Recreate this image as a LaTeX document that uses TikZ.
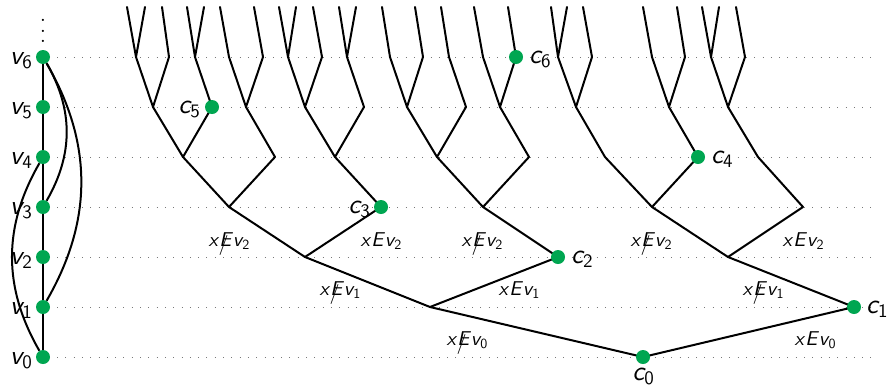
\documentclass[tikz,border=0pt]{standalone}
\usepackage{fontspec}
\newfontfamily\lmsanst{lmsans10-regular.otf}[ItalicFont=lmsans10-oblique.otf]
\definecolor{dotgreen}{RGB}{0,166,81}
\definecolor{guidegray}{RGB}{120,120,120}
\tikzset{
  gdot/.style={circle, fill=dotgreen, draw=none, inner sep=0pt, minimum size=14pt},
  tedge/.style={line width=2pt, line cap=round, line join=round},
  gedge/.style={line width=2pt},
  guide/.style={draw=guidegray, line width=1pt, dash pattern=on 1pt off 7.3pt},
  biglab/.style={font=\lmsanst\itshape\fontsize{27}{30}\selectfont, inner sep=0pt},
  edgelab/.style={font=\lmsanst\itshape\fontsize{20}{22}\selectfont, inner sep=0pt, anchor=base},
}
\newcommand{\nodelab}[2]{#1\raisebox{-4pt}{\fontsize{19}{20}\selectfont\upshape #2}}
\newcommand{\notE}{\rlap{\hspace{-0.03em}\raisebox{-0.2em}{\upshape/}}E}
\newcommand{\elab}[2]{x\kern0.08em#1\kern0.08em v\kern0.02em\raisebox{-3pt}{\fontsize{14}{15}\selectfont\upshape #2}}
\begin{document}
\begin{tikzpicture}[x=1pt,y=1pt]
\useasboundingbox (0,0) rectangle (890,-386);

% ---------- graph on the left ----------
\foreach \k in {0,...,6} {
  \node[gdot] (v\k) at (43,{-(357-50*\k)}) {};
  \coordinate (gr\k) at (875,{-(357-50*\k)});
  \coordinate (gl\k) at (57,{-(357-50*\k)});
}
\foreach \k in {0,...,6} {
  \draw[guide] (gl\k) -- (gr\k);
  \node[biglab, anchor=base east] (lv\k) at (32,{-(357-50*\k)-7}) {\nodelab{v}{\k}};
}
\foreach \a/\b in {v0/v1,v1/v2,v2/v3,v3/v4,v4/v5,v5/v6}
  \draw[gedge] (\a) -- (\b);
\draw[gedge] (v6) to[bend left=30] (v3);
\draw[gedge] (v6) to[bend left=30] (v1);
\draw[gedge] (v4) to[bend right=30] (v0);
\node[font=\fontsize{27}{10.8}\selectfont, align=center, inner sep=0pt] (vd) at (43,-31) {.\\.\\.};

% ---------- tree points ----------
\coordinate (c0) at (643,-357);
\coordinate (l1a) at (430,-307); \coordinate (c1) at (854,-307);
\coordinate (l2a) at (305,-257); \coordinate (c2) at (558,-257); \coordinate (l2b) at (728,-257);
\coordinate (l3a) at (229,-207); \coordinate (c3) at (381,-207); \coordinate (l3b) at (483,-207);
\coordinate (l3c) at (652,-207); \coordinate (l3d) at (803,-207);
\coordinate (l4a) at (183,-157); \coordinate (l4b) at (275,-157); \coordinate (l4c) at (335,-157);
\coordinate (l4d) at (437,-157); \coordinate (l4e) at (529,-157); \coordinate (l4f) at (605,-157);
\coordinate (c4) at (698,-157); \coordinate (l4g) at (758,-157);
\coordinate (l5a) at (153,-107); \coordinate (c5) at (212,-107); \coordinate (l5b) at (246,-107);
\coordinate (l5c) at (305,-107); \coordinate (l5d) at (364,-107); \coordinate (l5e) at (407,-107);
\coordinate (l5f) at (466,-107); \coordinate (l5g) at (500,-107); \coordinate (l5h) at (576,-107);
\coordinate (l5i) at (669,-107); \coordinate (l5j) at (728,-107);
\foreach \n/\x in {l6a/136,l6b/169,l6c/195,l6d/229,l6e/263,l6f/288,l6g/322,l6h/347,l6i/390,
  l6j/423,l6k/449,l6l/483,c6/516,l6m/558,l6n/592,l6o/652,l6p/685,l6q/711,l6r/745}
  \coordinate (\n) at (\x,-57);

% ---------- tree edges ----------
\foreach \a/\b in {c0/l1a,c0/c1,l1a/l2a,l1a/c2,c1/l2b,
  l2a/l3a,l2a/c3,c2/l3b,l2b/l3c,l2b/l3d,
  l3a/l4a,l3a/l4b,c3/l4c,l3b/l4d,l3b/l4e,l3c/l4f,l3c/c4,l3d/l4g,
  l4a/l5a,l4a/c5,l4b/l5b,l4c/l5c,l4c/l5d,l4d/l5e,l4d/l5f,l4e/l5g,l4f/l5h,c4/l5i,l4g/l5j,
  l5a/l6a,l5a/l6b,c5/l6c,l5b/l6d,l5b/l6e,l5c/l6f,l5c/l6g,l5d/l6h,l5e/l6i,l5e/l6j,l5f/l6k,
  l5g/l6l,l5g/c6,l5h/l6m,l5h/l6n,l5i/l6o,l5i/l6p,l5j/l6q,l5j/l6r}
  \draw[tedge] (\a) -- (\b);
\foreach \x/\p in {127/l6a,145/l6a,162/l6b,187/l6c,204/l6c,220/l6d,254/l6e,279/l6f,296/l6f,
  313/l6g,339/l6h,356/l6h,382/l6i,415/l6j,441/l6k,474/l6l,508/c6,551/l6m,567/l6m,583/l6n,
  643/l6o,677/l6p,702/l6q,719/l6q,736/l6r} {
  \coordinate (t\x) at (\x,-7);
  \draw[tedge] (\p) -- (t\x);
}

% ---------- green dots and their labels ----------
\foreach \c in {0,...,6}
  \node[gdot] (dc\c) at (c\c) {};
\node[biglab, anchor=base] (lc0) at (643,-380) {\nodelab{c}{0}};
\node[biglab, anchor=base west] (lc1) at (866,-313) {\nodelab{c}{1}};
\node[biglab, anchor=base west] (lc2) at (571,-263) {\nodelab{c}{2}};
\node[biglab, anchor=base east] (lc3) at (370,-213) {\nodelab{c}{3}};
\node[biglab, anchor=base west] (lc4) at (711,-163) {\nodelab{c}{4}};
\node[biglab, anchor=base east] (lc5) at (200,-113) {\nodelab{c}{5}};
\node[biglab, anchor=base west] (lc6) at (529,-63) {\nodelab{c}{6}};

% ---------- edge labels ----------
\node[edgelab] (e1) at (229,-246) {\elab{\notE}{2}};
\node[edgelab] (e2) at (381,-246) {\elab{E}{2}};
\node[edgelab] (e3) at (482,-246) {\elab{\notE}{2}};
\node[edgelab] (e4) at (651,-246) {\elab{\notE}{2}};
\node[edgelab] (e5) at (803,-246) {\elab{E}{2}};
\node[edgelab] (e6) at (340,-295) {\elab{\notE}{1}};
\node[edgelab] (e7) at (519,-295) {\elab{E}{1}};
\node[edgelab] (e8) at (763,-295) {\elab{\notE}{1}};
\node[edgelab] (e9) at (467,-345) {\elab{\notE}{0}};
\node[edgelab] (e10) at (815,-345) {\elab{E}{0}};
\end{tikzpicture}
\end{document}
